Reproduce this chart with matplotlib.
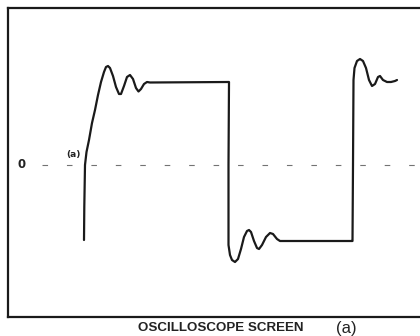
import numpy as np
import matplotlib.pyplot as plt

# trace: time (screen units) and level (screen units, 0 = baseline)
t = [76, 76.3, 77, 78.5, 81, 84, 87, 90, 93, 96, 98, 100, 102, 105, 108, 111,
     113, 116, 119, 122, 125, 128, 130.5, 133, 136, 139, 142,
     221, 220.5, 220.5, 222, 224, 227, 230, 233, 236, 239, 241, 243, 246, 249,
     251, 254, 258, 262, 265, 269, 272,
     344, 344.5, 345, 345.5, 346.5, 349, 352, 355, 358, 361, 364, 367, 370,
     372, 375, 379, 383, 387, 389]
v = [-75, -42, 0, 13, 25, 42, 55, 70, 83, 93, 98, 99, 97, 89, 78, 71,
     71, 79, 88, 90, 86, 77, 73.5, 76, 81, 83, 82.5,
     83, 0, -80, -90, -95, -97, -94, -84, -72, -66, -65, -67, -76, -83,
     -84, -80, -72, -68, -69, -74, -76,
     -76, -76, 0, 85, 97, 104, 106, 104, 97, 85, 79, 81, 88,
     89, 85, 83, 83, 84, 85]

t_range = (0, 412)
v_range = (-152, 157)

fig = plt.figure(figsize=(4.2, 3.36), dpi=100)
ax = fig.add_axes([8 / 420, 19 / 336, 412 / 420, 309 / 336])
ax.set_xlim(*t_range)
ax.set_ylim(*v_range)

# zero reference, sparse dashes like the graticule
ax.plot([34, 412], [0, 0], color='0.45', lw=0.8,
        linestyle=(0, (5, 17)))

ax.plot(t, v, color='#1a1a1a', lw=1.6, solid_joinstyle='round',
        solid_capstyle='round')

ax.text(14, 0, '0', ha='center', va='center', fontsize=8.5,
        fontweight='bold', color='#222222')
ax.text(65, 10, '(a)', ha='center', va='center', fontsize=6.5,
        fontweight='bold', color='#222222')

for side in ['left', 'top', 'bottom']:
    ax.spines[side].set_linewidth(1.6)
    ax.spines[side].set_color('#1a1a1a')
ax.spines['right'].set_visible(False)
ax.set_xticks([])
ax.set_yticks([])

fig.text(221 / 420, 1 - 328 / 336, 'OSCILLOSCOPE SCREEN', ha='center',
         va='center', fontsize=9.6, fontweight='bold', color='#222222',
         family='Liberation Sans')
fig.text(346 / 420, 1 - 329 / 336, '(a)', ha='center', va='center',
         fontsize=12, color='#222222', family='Liberation Sans')

fig.savefig('out.png', dpi=100)
